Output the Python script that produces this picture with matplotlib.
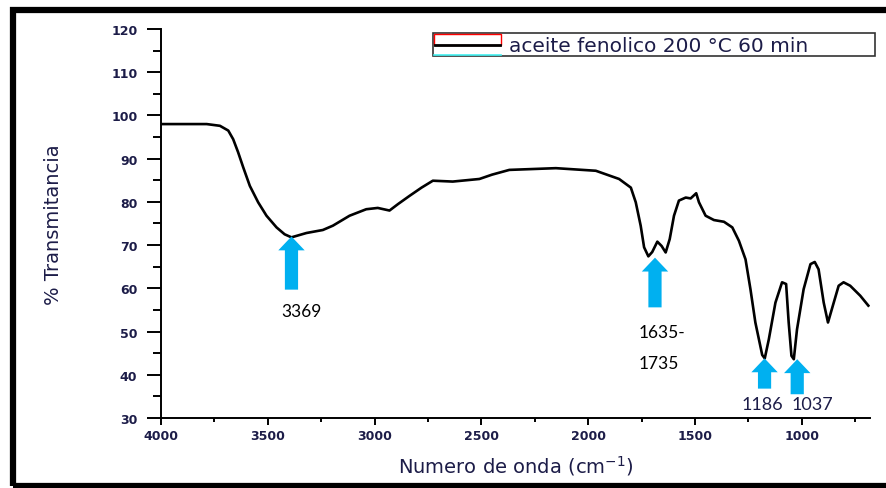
import matplotlib
matplotlib.use("Agg")
import matplotlib.pyplot as plt
from matplotlib.patches import Rectangle
from matplotlib.lines import Line2D

# FTIR spectrum
wavenumber = [4000, 3786, 3724, 3685, 3662, 3639, 3615, 3584, 3545, 3506,
              3459, 3421, 3389, 3319, 3242, 3195, 3117, 3039, 2985, 2930,
              2890, 2836, 2780, 2727, 2634, 2509, 2450, 2369, 2151, 1964,
              1855, 1800, 1777, 1754, 1738, 1718, 1700, 1676, 1656, 1637,
              1618, 1598, 1575, 1543, 1520, 1494, 1481, 1450, 1411, 1364,
              1325, 1294, 1263, 1240, 1217, 1185, 1173, 1154, 1123, 1092,
              1073, 1061, 1048, 1037, 1022, 991, 959, 939, 921, 897,
              877, 850, 827, 804, 773, 726, 688]
transmit = [98.0, 98.0, 97.6, 96.5, 94.5, 91.5, 88.0, 83.7, 79.9, 76.8,
            74.1, 72.5, 71.8, 72.8, 73.5, 74.5, 76.8, 78.3, 78.6, 78.0,
            79.5, 81.4, 83.3, 84.9, 84.7, 85.3, 86.3, 87.4, 87.8, 87.2,
            85.3, 83.3, 79.9, 74.5, 69.5, 67.4, 68.4, 70.8, 69.8, 68.3,
            71.4, 76.8, 80.3, 81.0, 80.8, 82.0, 79.9, 76.8, 75.8, 75.4,
            74.1, 71.0, 66.7, 59.8, 52.1, 44.6, 43.8, 48.2, 56.7, 61.4,
            61.0, 52.1, 44.4, 43.6, 50.5, 59.8, 65.6, 66.1, 64.4, 56.7,
            52.1, 56.7, 60.6, 61.4, 60.6, 58.3, 56.0]

# peak markers: arrow x, tip y, base y
arrow_x = [3389, 1687, 1174, 1021]
arrow_tip = [72.0, 67.1, 43.8, 43.6]
arrow_base = [59.7, 55.6, 36.8, 35.5]

BLUE = "#00B0F0"
NAVY = "#1c1c48"

fig = plt.figure(figsize=(8.86, 4.89), dpi=100)
ax = fig.add_axes([0.1817, 0.1431, 0.8003, 0.7956])

ax.plot(wavenumber, transmit, color="black", lw=1.9, solid_joinstyle="round")

ax.set_xlim(4000, 680)
ax.set_ylim(30, 120)
ax.set_xticks([4000, 3500, 3000, 2500, 2000, 1500, 1000])
ax.set_xticks([3750, 3250, 2750, 2250, 1750, 1250, 750], minor=True)
ax.set_yticks(range(30, 121, 10))
ax.set_yticks(range(35, 120, 10), minor=True)

for side in ("top", "right"):
    ax.spines[side].set_visible(False)
for side in ("left", "bottom"):
    ax.spines[side].set_linewidth(1.4)

ax.tick_params(axis="y", which="major", direction="out", length=10, width=1.4, pad=7,
               labelsize=9, labelcolor=NAVY)
ax.tick_params(axis="y", which="minor", direction="out", length=5.5, width=1.4)
ax.tick_params(axis="x", which="major", direction="out", length=5, width=1.4, pad=3,
               labelsize=9, labelcolor=NAVY)
ax.tick_params(axis="x", which="minor", direction="out", length=3, width=1.4)
for lab in ax.get_xticklabels() + ax.get_yticklabels():
    lab.set_fontweight("bold")

ax.set_xlabel("Numero de onda (cm$^{-1}$)", fontsize=14, color=NAVY, labelpad=8)
ax.set_ylabel("% Transmitancia", fontsize=14, color=NAVY, labelpad=35)

# blue arrows
for x, tip, base in zip(arrow_x, arrow_tip, arrow_base):
    ax.annotate("", xy=(x, tip), xytext=(x, base),
                arrowprops=dict(arrowstyle="simple,head_length=1.0,head_width=1.9,tail_width=0.95",
                                mutation_scale=10, color=BLUE, lw=0,
                                shrinkA=0, shrinkB=0))

ax.text(3343, 54.7, "3369", fontsize=12.5, family="Lato", ha="center", va="center")
ax.text(1762, 49.8, "1635-", fontsize=12.5, family="Lato", ha="left", va="center")
ax.text(1762, 42.8, "1735", fontsize=12.5, family="Lato", ha="left", va="center")
ax.text(1185, 33.3, "1186", fontsize=13, family="Lato", color=NAVY, ha="center", va="center")
ax.text(950, 33.3, "1037", fontsize=13, family="Lato", color=NAVY, ha="center", va="center",
        bbox=dict(facecolor="white", edgecolor="none", pad=0.5))

# legend box drawn in figure pixels
W, H = 886, 489
def fx(px):
    return px / W
def fy(py):
    return 1 - py / H

fig.patches.append(Rectangle((fx(433), fy(57)), fx(875) - fx(433), fy(34) - fy(57),
                             transform=fig.transFigure, fill=False, edgecolor="#333333", lw=1.2))
fig.patches.append(Rectangle((fx(434), fy(46)), fx(501) - fx(434), fy(35) - fy(46),
                             transform=fig.transFigure, fill=False, edgecolor="red", lw=1.0))
fig.lines.append(Line2D([fx(434), fx(501)], [fy(56), fy(56)], transform=fig.transFigure,
                        color="#44f0f0", lw=1.2))
fig.lines.append(Line2D([fx(435), fx(500)], [fy(46), fy(46)], transform=fig.transFigure,
                        color="black", lw=2.0))
fig.text(fx(509), fy(46), "aceite fenolico 200 °C 60 min", fontsize=14.5, color=NAVY,
         ha="left", va="center")

# thick outer frame
fig.patches.append(Rectangle((fx(13), fy(487)), fx(900) - fx(13), fy(11) - fy(487),
                             transform=fig.transFigure, fill=False, edgecolor="black",
                             lw=4.5, clip_on=False))

fig.savefig("out.png", dpi=100)
